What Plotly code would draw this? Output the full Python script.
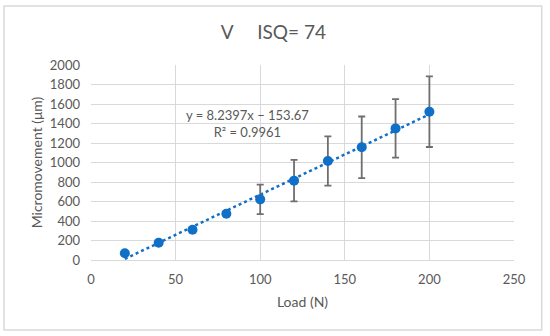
import plotly.graph_objects as go

load = [20, 40, 60, 80, 100, 120, 140, 160, 180, 200]
micro = [69, 177, 311, 475, 622, 814, 1015, 1156, 1350, 1521]
err = [10, 15, 20, 25, 152, 213, 252, 316, 301, 362]
slope, intercept = 8.2397, -153.67
x_ticks = [0, 50, 100, 150, 200, 250]
y_ticks = list(range(0, 2001, 200))

font = "Lato, 'Open Sans', sans-serif"
grey = "#595959"

trend_x = [load[0], load[-1]]
trend_y = [slope * v + intercept for v in trend_x]

fig = go.Figure()
fig.add_trace(go.Scatter(x=trend_x, y=trend_y, mode="lines",
                         line=dict(color="#1070C8", width=2.5, dash="dot"),
                         hoverinfo="skip", showlegend=False))
fig.add_trace(go.Scatter(x=load, y=micro, mode="markers",
                         marker=dict(color="#1070C8", size=10),
                         error_y=dict(type="data", array=err, visible=True,
                                      color="#6f6f6f", thickness=1.8, width=3.5),
                         showlegend=False))

fig.add_annotation(x=0.37, y=0.795, xref="paper", yref="paper",
                   text="y = 8.2397x − 153.67<br>R² = 0.9961", showarrow=False,
                   font=dict(family=font, size=13, color=grey), align="center")

fig.add_shape(type="rect", xref="paper", yref="paper",
              x0=-0.2057, x1=1.0655, y0=-0.359, y1=1.3026,
              line=dict(color="#d9d9d9", width=1.5), layer="below")

fig.update_layout(
    width=550, height=336,
    margin=dict(l=91, r=36, t=65, b=76, autoexpand=False),
    paper_bgcolor="white", plot_bgcolor="white",
    title=dict(text="V     ISQ= 74", x=0.497, xanchor="center", y=0.905, yanchor="middle",
               font=dict(family=font, size=19, color=grey)),
    font=dict(family=font, size=13, color=grey),
    xaxis=dict(range=[0, 250], tickvals=x_ticks, showgrid=True, gridcolor="#d9d9d9",
               gridwidth=1, zeroline=False, showline=True, linecolor="#d9d9d9",
               ticks="", automargin=False, ticklabelstandoff=7,
               title=dict(text="Load (N)", standoff=11, font=dict(size=14)),
               tickfont=dict(size=13, color=grey)),
    yaxis=dict(range=[0, 2000], tickvals=y_ticks, showgrid=True, gridcolor="#d9d9d9",
               gridwidth=1, zeroline=False, showline=False, ticks="",
               automargin=False, ticklabelstandoff=10,
               title=dict(text="Micromovement (μm)", standoff=3, font=dict(size=14)),
               tickfont=dict(size=13, color=grey)),
)

fig.write_html("out.html", config={"displayModeBar": False},
               post_script="document.body.style.margin='0';")
